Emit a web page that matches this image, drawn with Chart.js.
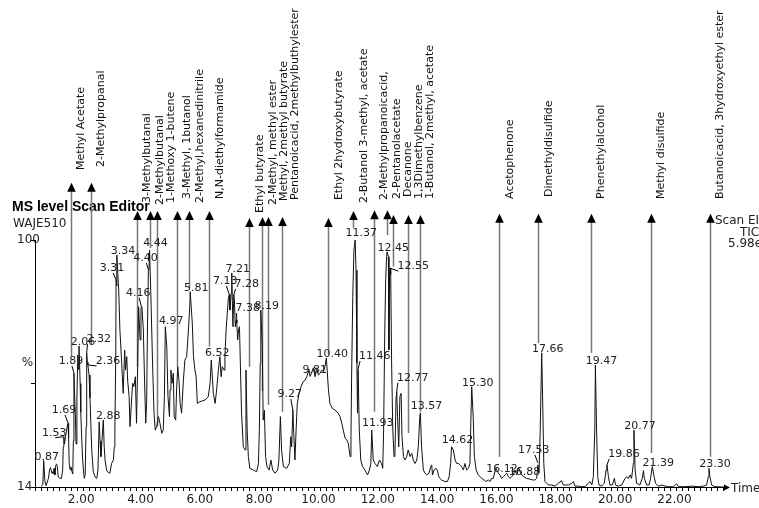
<!DOCTYPE html>
<html><head><meta charset="utf-8">
<script src="https://cdn.jsdelivr.net/npm/chart.js@4.4.1/dist/chart.umd.min.js"></script>
<style>html,body{margin:0;padding:0;background:#fff;}#wrap{width:759px;height:508px;position:relative;overflow:hidden;}</style>
</head><body><div id="wrap"><canvas id="c" width="759" height="508" style="width:759px;height:508px"></canvas></div>
<script>
// ---- chromatogram trace (retention time in min, relative intensity %) ----
const traceTime = [
0.78,0.84,0.87,0.91,0.95,1.03,1.07,1.10,1.14,1.16,1.19,1.22,1.25,1.28,1.31,1.33,1.36,1.42,1.47,1.51,1.53,1.55,1.57,1.60,1.64,
1.69,1.71,1.73,1.76,1.79,1.82,1.85,1.87,1.89,1.91,1.94,1.96,1.99,2.02,2.04,2.06,2.08,2.10,2.12,2.15,2.18,2.21,2.24,2.27,2.30,
2.32,2.34,2.36,2.40,2.43,2.46,2.49,2.54,2.60,2.66,2.70,2.74,2.77,2.80,2.84,2.88,2.91,2.94,2.99,3.05,3.10,3.16,3.22,3.25,3.27,
3.30,3.31,3.33,3.34,3.37,3.40,3.44,3.50,3.55,3.60,3.63,3.67,3.70,3.75,3.78,3.84,3.87,3.91,3.96,4.00,4.04,4.07,4.12,4.15,4.18,
4.23,4.27,4.31,4.34,4.37,4.40,4.42,4.44,4.48,4.54,4.59,4.63,4.68,4.74,4.79,4.85,4.90,4.94,4.97,5.02,5.06,5.11,5.13,5.16,5.20,
5.24,5.27,5.32,5.35,5.39,5.43,5.47,5.52,5.58,5.63,5.69,5.75,5.80,5.81,5.88,5.92,5.97,6.01,6.05,
6.14,6.31,6.42,6.48,6.52,6.59,6.65,6.70,6.76,6.81,6.85,6.89,6.95,6.98,7.02,7.06,7.10,7.13,7.15,7.19,
7.21,7.25,7.28,7.30,7.33,7.36,7.38,7.41,7.44,7.47,7.50,7.54,7.60,7.66,7.69,7.73,7.77,7.82,7.94,8.05,
8.11,8.14,8.17,8.19,8.24,8.27,8.31,8.35,8.40,8.47,8.53,8.59,8.67,8.76,8.80,8.85,8.89,8.95,9.06,9.15,
9.20,9.23,9.27,9.30,9.34,9.38,9.42,9.48,9.55,9.62,9.68,9.74,9.79,9.81,9.85,9.90,9.96,10.02,10.07,10.13,
10.19,10.24,10.30,10.35,10.40,10.47,10.52,10.60,10.69,10.80,10.86,10.92,10.97,11.03,11.09,11.14,11.20,11.23,11.25,11.29,
11.33,11.37,11.40,11.43,11.45,11.47,11.51,11.56,11.62,11.70,11.79,
11.85,11.90,11.93,11.98,12.04,12.12,12.19,12.26,12.30,12.33,12.37,12.40,12.43,12.45,12.49,12.51,12.53,12.55,12.57,12.60,
12.64,12.68,12.71,12.75,12.77,12.80,12.84,12.88,12.92,12.95,13.00,13.05,13.11,13.16,13.22,13.28,13.33,13.39,13.45,13.50,
13.55,13.57,13.61,13.67,13.73,13.78,13.86,13.92,13.95,13.98,14.03,14.10,14.14,14.19,14.23,14.29,14.40,14.48,14.54,14.59,
14.62,14.68,14.74,14.79,14.85,14.91,14.96,15.02,15.07,15.13,15.19,15.24,15.27,15.30,15.35,15.39,15.45,15.52,15.58,15.64,
15.72,15.78,15.86,15.92,15.97,16.03,16.08,16.12,16.20,16.25,16.31,16.37,16.42,16.48,16.54,16.59,16.65,16.70,16.76,16.82,
16.88,16.95,17.04,17.15,17.27,17.38,
17.44,17.49,17.53,17.57,17.61,17.66,17.69,17.73,17.77,17.88,18.00,18.11,18.22,18.33,18.39,18.56,18.67,18.73,18.78,18.90,
19.01,19.12,19.23,19.29,19.35,19.40,19.45,19.47,19.51,19.55,19.59,19.68,19.77,19.83,19.86,19.91,19.96,20.04,20.11,20.15,
20.24,20.36,20.47,20.53,20.58,20.64,20.69,20.75,20.77,20.81,20.86,20.97,21.05,21.09,21.12,21.20,21.28,21.33,21.37,21.39,
21.45,21.50,21.59,21.71,21.82,21.93,22.10,22.21,22.27,22.49,22.72,22.94,23.11,23.22,23.28,23.30,23.33,23.39,23.50,23.62,
23.73,23.84
];
const traceValue = [
14.2,14.8,23.2,16.0,14.5,17.0,20.0,20.8,19.0,19.3,18.5,20.5,18.2,21.7,22.0,21.1,17.5,17.0,17.0,20.0,28.0,31.5,29.0,31.0,33.8,
36.2,31.0,22.2,20.0,21.0,19.5,18.5,30.0,53.7,47.0,38.0,29.0,45.0,60.0,55.0,63.1,57.0,50.0,40.0,31.5,24.0,19.9,17.0,18.5,35.0,
60.7,57.5,56.5,53.0,45.0,36.0,27.0,19.5,17.5,17.0,20.0,36.7,30.0,24.6,31.0,37.3,28.0,23.4,19.9,19.0,18.8,22.2,23.4,28.0,33.8,
60.0,86.1,84.0,94.8,88.0,82.6,68.7,57.1,46.6,61.7,54.7,59.4,51.2,45.5,35.0,45.5,50.1,49.0,52.4,36.2,57.1,76.8,65.2,76.2,76.8,
68.7,51.2,36.2,43.1,70.0,89.6,90.0,96.5,82.0,57.1,39.7,33.8,35.0,38.5,36.2,32.7,33.8,45.5,69.8,62.9,45.5,38.5,47.8,54.7,50.1,
53.6,38.5,37.3,47.8,55.9,51.2,43.1,39.7,51.2,58.2,59.4,68.7,77.9,82.0,71.0,59.4,54.7,52.4,43.1,
43.7,44.3,45.5,50.1,58.2,46.6,43.1,47.8,54.7,59.4,52.4,55.9,54.7,59.4,68.7,74.5,80.3,80.9,75.6,81.5,
88.5,69.8,80.9,79.0,69.8,72.1,71.1,65.2,68.7,69.8,57.1,39.7,28.0,26.9,54.7,33.8,24.6,20.5,19.9,19.3,
22.2,33.8,57.1,75.6,62.9,37.3,40.8,24.6,21.1,19.9,23.4,19.9,18.8,19.9,23.4,38.5,26.9,21.1,20.5,22.2,
31.5,28.0,40.8,32.7,23.4,33.8,43.1,46.6,49.0,50.7,51.2,52.4,54.0,55.0,52.5,53.6,55.5,52.4,55.5,53.0,
53.6,54.7,54.2,55.9,58.9,47.8,43.1,41.4,40.8,39.7,38.5,36.2,33.8,31.0,30.4,29.2,24.6,31.5,51.2,80.3,
96.5,100,89.5,57.1,39.7,54.7,33.8,23.4,21.1,19.9,18.2,
19.9,22.2,33.8,23.4,22.2,21.1,23.4,22.2,20.5,33.8,68.7,86.1,94.2,95.9,94.2,61.7,88.4,90.2,88.0,57.1,
33.8,24.6,24.6,45.5,47.2,38.5,28.0,45.5,46.6,31.5,24.6,23.4,24.6,26.9,24.6,25.7,23.4,22.2,23.4,28.0,
38.5,39.8,28.0,19.9,18.8,18.2,18.8,21.1,21.7,18.2,19.9,20.5,19.9,17.6,17.0,16.4,15.9,15.9,17.6,22.2,
28.0,26.9,23.4,22.2,22.2,21.7,21.1,19.9,22.2,19.9,20.5,22.2,36.2,48.9,38.5,24.6,19.9,18.2,17.6,17.0,
16.4,15.9,16.4,15.9,17.0,17.0,19.3,20.5,18.8,18.2,17.0,17.6,18.2,18.8,17.6,17.0,17.6,18.2,19.9,18.2,
20.8,18.8,17.6,17.0,16.7,16.4,
16.5,17.0,21.7,19.0,33.8,60.7,45.5,22.2,15.9,14.7,14.7,14.3,15.3,16.2,14.7,14.7,15.3,15.9,14.3,14.3,
14.1,14.1,15.3,15.9,14.7,17.6,33.8,56.5,33.8,17.6,14.7,14.3,15.3,19.9,21.7,17.6,14.7,14.7,17.0,14.7,
14.3,14.7,17.0,17.6,17.0,18.2,17.0,22.2,33.8,19.9,15.3,14.7,17.0,19.7,17.0,14.7,14.7,17.0,19.9,21.1,
17.6,15.3,14.3,14.7,14.3,14.1,14.1,15.1,14.1,14.1,14.3,14.1,14.3,14.7,17.6,20.5,17.6,14.7,14.1,14.1,
14.0,14.0
];

// ---- labelled peaks (time, apex %) ----
const peakTimes  = [0.87,1.53,1.69,1.89,2.06,2.32,2.36,2.88,3.31,3.34,4.16,4.40,4.44,4.97,5.81,6.52,7.13,7.21,7.28,7.38,
                    8.19,9.27,9.81,10.40,11.37,11.46,11.93,12.45,12.55,12.77,13.57,14.62,15.30,16.12,16.88,17.53,17.66,19.47,19.86,20.77,21.39,23.30];
const peakValues = [23.2,31.5,36.3,53.7,63.1,60.7,56.5,37.3,86.1,94.8,76.8,89.6,96.5,69.8,82.0,58.2,80.9,88.5,80.9,71.1,
                    75.6,40.8,53.3,58.9,100,54.7,33.8,95.9,90.2,47.2,39.8,28.0,48.9,19.0,18.0,22.4,60.7,56.5,21.7,33.8,21.1,20.5];
// label nudges (layout only, px)
const peakLabelDx = [-3,-15,-10,-9,-2,6,14,-1,-10,0, -9,-9,0,0,0,0,-10,0,7,5, 0,-9,0,0,0,11,0,0,17,10, 0,0,0,0,0,-10,0,0,11,0, 0,0];
const peakLabelDy = [0,0,-9,-8,0,-10,0,0,-8,0, -10,-8,-3,-2,0,-3,-10,0,-7,-11, 0,-12,0,0,-3,-10,-3,0,2,-10, -3,-3,0,0,0,-9,0,0,-7,0, 0,0];

// ---- identified compounds (arrow time, arrow foot %) ----
const compoundNames = ["Methyl Acetate","2-Methylpropanal","3-Methylbutanal","2-Methylbutanal","1-Methoxy 1-butene",
  "3-Methyl, 1butanol","2-Methyl,hexanedinitrile","N,N-diethylformamide","Ethyl butyrate","2-Methyl, methyl ester",
  "Methyl, 2methyl butyrate","Pentanoicacid, 2methylbuthylester","Ethyl 2hydroxybutyrate","2-Butanol 3-methyl, acetate",
  "2-Methylpropanoicacid,","2-Pentanolacetate","Decanone","1,3Dimethylbenzene","1-Butanol, 2methyl, acetate",
  "Acetophenone","Dimethyldisulfide","Phenethylalcohol","Methyl disulfide","Butanoicacid, 3hydroxyethyl ester"];
const compoundTimes = [1.78,2.46,4.01,4.45,4.68,5.35,5.78,6.45,7.80,8.24,8.44,8.89,10.47,11.31,12.01,12.43,12.66,13.14,13.56,16.23,17.55,19.32,21.34,23.33];
const compoundEnds  = [59.4,63.4,55.9,97.2,35.0,55.9,83.3,62.9,55.9,47.4,42.6,40.2,60.0,104.2,40.2,101.7,90.7,32.8,40.2,24.5,64.1,60.7,25.8,24.5];
// arrow tip and text start heights (layout, in axis units above 100)
const compoundTips  = [119.9,119.9,110.1,110.1,110.1,110.1,110.1,110.1,107.7,108.0,108.0,108.0,107.7,110.1,110.4,110.4,108.7,108.7,108.7,109.1,109.1,109.1,109.1,109.1];
const compoundTextAt= [124.4,125.4,112.9,112.2,112.9,114.3,112.9,114.3,109.4,112.2,113.6,113.9,113.9,112.9,113.9,114.3,115.0,114.3,114.3,114.3,115.0,114.3,114.3,114.3];

// ---- axes ----
const xLabelValues = [2,4,6,8,10,12,14,16,18,20,22];
const xLabelTexts  = ["2.00","4.00","6.00","8.00","10.00","12.00","14.00","16.00","18.00","20.00","22.00"];
const yTickValues  = [14,50,100];
const yTickTexts   = ["14","","100"];
const headerTitle = "MS level Scan Editor";
const headerSample = "WAJE510";
const rightInfo = ["Scan EI+","TIC","5.98e7"];

const FONT = '"DejaVu Sans", Verdana, sans-serif';

const annot = {
  id: 'annot',
  beforeDatasetsDraw(chart) {
    const {ctx, scales: {x, y}} = chart;
    ctx.save();
    // header
    ctx.fillStyle = '#000';
    ctx.textAlign = 'left'; ctx.textBaseline = 'alphabetic';
    ctx.font = 'bold 14px "Liberation Sans", Arial, sans-serif';
    ctx.fillText(headerTitle, 12, 211);
    ctx.font = '12px ' + FONT;
    ctx.fillStyle = '#222';
    ctx.fillText(headerSample, 13, 227);
    ctx.fillText(rightInfo[0], 715, 224);
    ctx.fillText(rightInfo[1], 740, 236);
    ctx.fillText(rightInfo[2], 728, 247);
    ctx.textAlign = 'center'; ctx.textBaseline = 'middle';
    ctx.fillText('%', 27.5, 363);
    // arrows
    compoundTimes.forEach((t, i) => {
      const px = Math.round(x.getPixelForValue(t)) + 0.5;
      const tip = y.getPixelForValue(compoundTips[i]);
      const end = y.getPixelForValue(compoundEnds[i]);
      ctx.strokeStyle = '#777'; ctx.lineWidth = 1.5;
      ctx.beginPath(); ctx.moveTo(px, tip + 8); ctx.lineTo(px, end); ctx.stroke();
      ctx.fillStyle = '#000';
      ctx.beginPath(); ctx.moveTo(px, tip); ctx.lineTo(px - 4.3, tip + 9); ctx.lineTo(px + 4.3, tip + 9); ctx.closePath(); ctx.fill();
    });
    // rotated compound names
    ctx.font = '11px ' + FONT; ctx.fillStyle = '#111';
    ctx.textAlign = 'left'; ctx.textBaseline = 'alphabetic';
    let prev = -1e9;
    compoundTimes.forEach((t, i) => {
      const px = x.getPixelForValue(t);
      const bx = Math.max(px + 13.3, prev + 11); prev = bx;
      const sy = y.getPixelForValue(compoundTextAt[i]);
      ctx.save(); ctx.translate(bx, sy); ctx.rotate(-Math.PI / 2);
      ctx.fillText(compoundNames[i], 0, 0); ctx.restore();
    });
    ctx.restore();
  },
  afterDatasetsDraw(chart) {
    const {ctx, scales: {x, y}, chartArea} = chart;
    ctx.save();
    ctx.font = '11px ' + FONT; ctx.fillStyle = '#222';
    ctx.textAlign = 'center'; ctx.textBaseline = 'alphabetic';
    ctx.strokeStyle = '#000'; ctx.lineWidth = 1;
    peakTimes.forEach((t, i) => {
      const px = x.getPixelForValue(t), py = y.getPixelForValue(peakValues[i]);
      const txt = t.toFixed(2);
      const cx = px + 6 + peakLabelDx[i], base = py - 1 + peakLabelDy[i];
      ctx.fillText(txt, cx, base);
      if (Math.abs(peakLabelDx[i]) >= 5) {
        const w = ctx.measureText(txt).width;
        const sx = peakLabelDx[i] < 0 ? cx + 1 : cx - w / 2 + 1;
        ctx.beginPath(); ctx.moveTo(sx, base + 2); ctx.lineTo(px, py); ctx.stroke();
      }
    });
    // x axis arrow + title
    const ay = chartArea.bottom + 0.5, ax = chartArea.right;
    ctx.fillStyle = '#000';
    ctx.beginPath(); ctx.moveTo(ax + 3, ay); ctx.lineTo(ax - 3, ay - 3); ctx.lineTo(ax - 3, ay + 3); ctx.closePath(); ctx.fill();
    ctx.font = '12px ' + FONT; ctx.fillStyle = '#222';
    ctx.textAlign = 'left'; ctx.textBaseline = 'middle';
    ctx.fillText('Time', 731, 489);
    ctx.restore();
  }
};

new Chart(document.getElementById('c'), {
  type: 'line',
  data: { datasets: [{
    data: traceTime.map((t, i) => ({x: t, y: traceValue[i]})),
    borderColor: '#111', borderWidth: 1, pointRadius: 0, tension: 0, fill: false, clip: false
  }]},
  options: {
    responsive: false, animation: false, devicePixelRatio: 1, events: [],
    layout: { padding: { top: 240, right: 32, left: 0, bottom: 0 } },
    plugins: { legend: { display: false }, tooltip: { enabled: false } },
    scales: {
      x: {
        type: 'linear', min: 0.577, max: 23.907,
        afterFit(s) { s.height = 21; },
        afterBuildTicks(s) { const a = []; for (let k = 3; k <= 119; k++) a.push({value: k / 5}); s.ticks = a; },
        ticks: {
          autoSkip: false, maxRotation: 0, minRotation: 0, padding: 2, labelOffset: 4,
          font: { family: 'DejaVu Sans', size: 12 }, color: '#222',
          callback(v) { const k = xLabelValues.indexOf(Math.round(v * 10) / 10); return k >= 0 ? xLabelTexts[k] : ''; }
        },
        grid: { drawOnChartArea: false, drawTicks: true, tickLength: 4, tickColor: '#000', tickWidth: 1 },
        border: { display: true, color: '#000', width: 1 }
      },
      y: {
        min: 14, max: 100,
        afterFit(s) { s.width = 35; },
        afterBuildTicks(s) { s.ticks = yTickValues.map(v => ({value: v})); },
        ticks: {
          mirror: true, padding: -18, font: { family: 'DejaVu Sans', size: 12 }, color: '#222',
          callback(v) { const k = yTickValues.indexOf(v); return k >= 0 ? yTickTexts[k] : ''; }
        },
        grid: { drawOnChartArea: false, drawTicks: true, tickLength: 4, tickColor: '#000' },
        border: { display: true, color: '#000', width: 1 }
      }
    }
  },
  plugins: [annot]
});
</script>
</body></html>
